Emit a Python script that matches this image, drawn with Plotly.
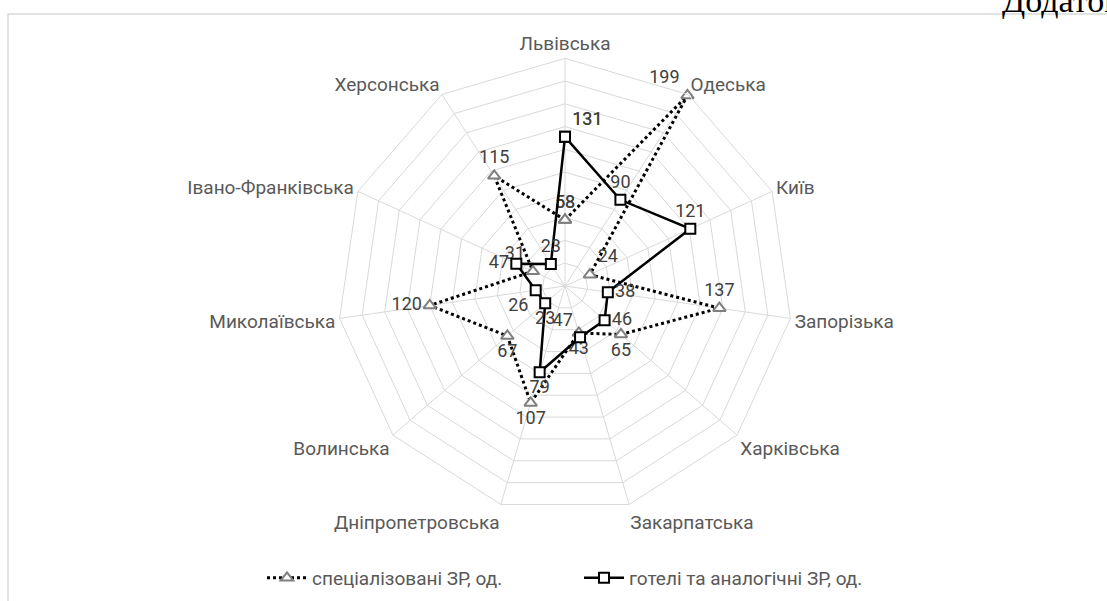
import plotly.graph_objects as go

categories = ["Львівська", "Одеська", "Київ", "Запорізька", "Харківська", "Закарпатська",
              "Дніпропетровська", "Волинська", "Миколаївська", "Івано-Франківська", "Херсонська"]
specialized = [58, 199, 24, 137, 65, 43, 107, 67, 120, 31, 115]
hotels = [131, 90, 121, 38, 46, 47, 79, 23, 26, 47, 23]
series_names = ["спеціалізовані ЗР, од.", "готелі та аналогічні ЗР, од."]

spec_pos = ["top center", "top left", "top right", "top center", "bottom center", "bottom center",
            "bottom center", "bottom center", "middle left", "top left", "top center"]
hot_pos = ["top right", "top center", "top center", "middle right", "middle right", "top left",
           "bottom center", "bottom center", "bottom left", "middle left", "top center"]

W, H = 1107, 601
cx, cy, R = 565, 286, 230
half = 0.99 * R               # polygon half-width (11-gon)
ycen = cy
FONT = "Roboto"

def closed(v):
    return list(v) + [v[0]]

fig = go.Figure()
fig.add_trace(go.Scatterpolar(
    r=closed(specialized), theta=closed(categories), name=series_names[0],
    mode="lines+markers+text",
    text=closed([str(v) for v in specialized]),
    textposition=closed(spec_pos),
    textfont=dict(family=FONT, size=18, color="#404040"),
    line=dict(color="black", width=3, dash="dot"),
    marker=dict(symbol="triangle-up", size=11, color="white",
                line=dict(color="#7f7f7f", width=2)),
    cliponaxis=False,
))
fig.add_trace(go.Scatterpolar(
    r=closed(hotels), theta=closed(categories), name=series_names[1],
    mode="lines+markers+text",
    text=closed([str(v) for v in hotels]),
    textposition=closed(hot_pos),
    textfont=dict(family=FONT, size=18, color="#404040"),
    line=dict(color="black", width=2.5),
    marker=dict(symbol="square", size=10, color="white",
                line=dict(color="black", width=2)),
    cliponaxis=False,
))

fig.update_layout(
    width=W, height=H,
    margin=dict(l=0, r=0, t=0, b=0),
    paper_bgcolor="white", plot_bgcolor="white",
    font=dict(family=FONT, size=19, color="#595959"),
    polar=dict(
        domain=dict(x=[(cx - half) / W, (cx + half) / W],
                    y=[1 - (ycen + half) / H, 1 - (ycen - half) / H]),
        bgcolor="white",
        gridshape="linear",
        radialaxis=dict(range=[0, 200], dtick=20, showticklabels=False, ticks="",
                        showline=False, gridcolor="#d9d9d9", gridwidth=1),
        angularaxis=dict(rotation=90, direction="clockwise", ticks="",
                         linecolor="#d9d9d9", linewidth=1, gridcolor="#d9d9d9",
                         tickfont=dict(family=FONT, size=19, color="#595959")),
    ),
    showlegend=True,
    legend=dict(orientation="h", x=262 / W, xanchor="left", y=1 - 578 / H, yanchor="middle",
                font=dict(family=FONT, size=19, color="#595959"), itemwidth=40,
                entrywidth=262, entrywidthmode="pixels",
                bgcolor="rgba(0,0,0,0)"),
    shapes=[dict(type="rect", xref="paper", yref="paper",
                 x0=8 / W, x1=1.02, y0=-0.02, y1=1 - 14 / H,
                 line=dict(color="#d9d9d9", width=1.5), fillcolor="rgba(0,0,0,0)")],
    annotations=[dict(text="Додаток", xref="paper", yref="paper", x=1000 / W, y=1.0,
                      xanchor="left", yanchor="middle", showarrow=False,
                      font=dict(family="Liberation Serif", size=34, color="black"))],
)

fig.write_html("out.html", config={"displayModeBar": False},
               post_script="document.body.style.margin='0px';")
